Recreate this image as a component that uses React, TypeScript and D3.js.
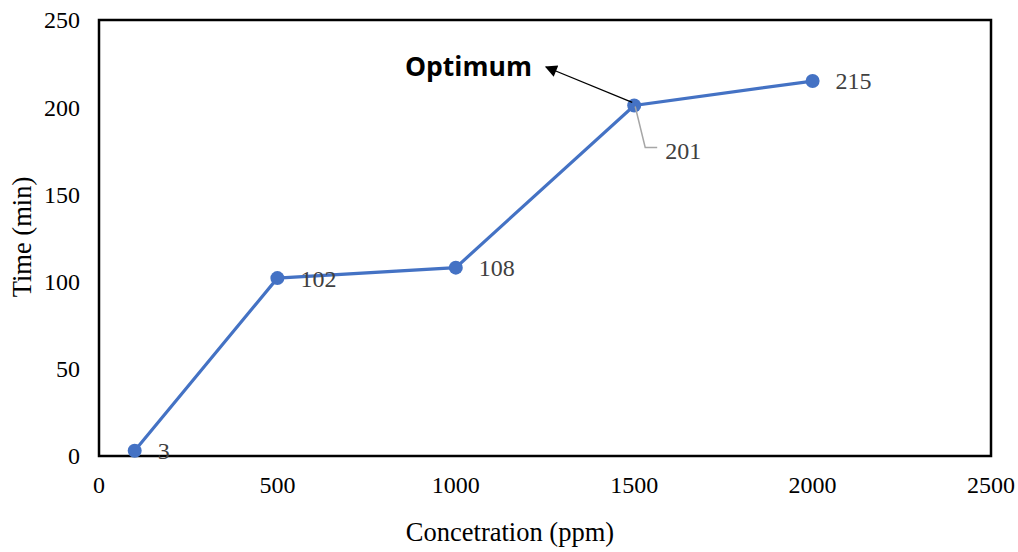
import React from "react";
import * as d3 from "d3";

const concentrations = [100, 500, 1000, 1500, 2000];
const times = [3, 102, 108, 201, 215];
const xTicks = [0, 500, 1000, 1500, 2000, 2500];
const yTicks = [0, 50, 100, 150, 200, 250];
const optimumLabel = "Optimum";
const xTitle = "Concetration (ppm)";
const yTitle = "Time (min)";

const W = 1018, H = 552;
const M = { left: 99, right: 991, top: 20, bottom: 456 };

export default function App() {
  const x = d3.scaleLinear().domain([0, 2500]).range([M.left, M.right]);
  const y = d3.scaleLinear().domain([0, 250]).range([M.bottom, M.top]);
  const pts = concentrations.map((c, i) => ({ c, t: times[i] }));
  const line = d3.line<{ c: number; t: number }>().x(d => x(d.c)).y(d => y(d.t));
  const serif = "'Liberation Serif', 'Times New Roman', serif";
  const optIdx = 3;
  const ox = x(concentrations[optIdx]);
  const oy = y(times[optIdx]);
  return (
    <svg width={W} height={H} style={{ position: "absolute", left: 0, top: 0, background: "#fff" }}>
      <defs>
        <marker id="arr" viewBox="0 0 10 10" refX="9" refY="5" markerWidth="16" markerHeight="12" markerUnits="userSpaceOnUse" orient="auto">
          <path d="M0,0 L10,5 L0,10 Z" fill="#000" />
        </marker>
      </defs>
      <rect x={M.left} y={M.top} width={M.right - M.left} height={M.bottom - M.top} fill="none" stroke="#000" strokeWidth={2.5} />
      {yTicks.map(t => (
        <text key={"y" + t} x={80} y={y(t)} dy="0.35em" textAnchor="end" fontFamily={serif} fontSize={24} fill="#000">{t}</text>
      ))}
      {xTicks.map(t => (
        <text key={"x" + t} x={x(t)} y={493} textAnchor="middle" fontFamily={serif} fontSize={24} fill="#000">{t}</text>
      ))}
      <text x={510} y={541} textAnchor="middle" fontFamily={serif} fontSize={26.5} fill="#000">{xTitle}</text>
      <text transform={`translate(31,${237}) rotate(-90)`} textAnchor="middle" fontFamily={serif} fontSize={26.5} fill="#000">{yTitle}</text>
      <path d={line(pts) || ""} fill="none" stroke="#4472C4" strokeWidth={3.2} />
      {pts.map((p, i) => (
        <circle key={"c" + i} cx={x(p.c)} cy={y(p.t)} r={7} fill="#4472C4" />
      ))}
      <path d={`M${ox + 1},${oy + 1} L${ox + 11},${oy + 42} L${ox + 23},${oy + 42}`} fill="none" stroke="#A6A6A6" strokeWidth={1.5} />
      {pts.map((p, i) => (
        i === optIdx ? (
          <text key={"l" + i} x={x(p.c) + 31} y={y(p.t) + 45} dy="0.35em" fontFamily={serif} fontSize={24} fill="#404040">{p.t}</text>
        ) : (
          <text key={"l" + i} x={x(p.c) + 23} y={y(p.t)} dy="0.35em" fontFamily={serif} fontSize={24} fill="#404040">{p.t}</text>
        )
      ))}
      <line x1={ox - 2} y1={oy - 3} x2={546} y2={67} stroke="#000" strokeWidth={1.3} markerEnd="url(#arr)" />
      <text x={405} y={76} fontFamily="'Open Sans', sans-serif" fontWeight="bold" fontSize={26.5} fill="#000">{optimumLabel}</text>
    </svg>
  );
}
